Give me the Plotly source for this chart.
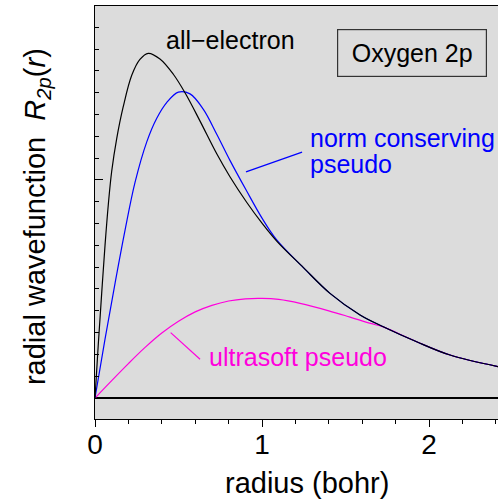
import plotly.graph_objects as go

# ---- data ----
r_all = [0.000, 0.020, 0.040, 0.060, 0.080, 0.100, 0.130, 0.169, 0.220, 0.269, 0.319, 0.389, 0.469,
         0.539, 0.629, 0.729, 0.808, 0.908, 1.000, 1.088, 1.248, 1.407, 1.587, 1.726, 1.926, 2.126, 2.413]
R_all = [0.000, 0.250, 0.480, 0.700, 0.890, 1.040, 1.190, 1.336, 1.480, 1.553, 1.581, 1.555, 1.485,
         1.400, 1.270, 1.120, 1.015, 0.898, 0.802, 0.720, 0.598, 0.480, 0.381, 0.327, 0.258, 0.197, 0.144]

r_nc = [0.000, 0.060, 0.120, 0.180, 0.240, 0.310, 0.369, 0.429, 0.499, 0.569, 0.648, 0.729, 0.808,
        0.904, 1.000, 1.088, 1.248, 1.407, 1.587, 1.726, 1.926, 2.126, 2.413]
R_nc = [0.000, 0.270, 0.526, 0.770, 0.990, 1.175, 1.282, 1.355, 1.403, 1.395, 1.325, 1.210, 1.090,
        0.955, 0.825, 0.725, 0.598, 0.480, 0.381, 0.327, 0.258, 0.197, 0.144]

r_us = [0.000, 0.100, 0.200, 0.300, 0.400, 0.500, 0.600, 0.700, 0.800, 0.900, 1.000, 1.100, 1.228,
        1.400, 1.527, 1.650, 1.726, 1.926, 2.126, 2.413]
R_us = [0.000, 0.080, 0.158, 0.232, 0.298, 0.352, 0.395, 0.425, 0.445, 0.455, 0.457, 0.452, 0.434,
        0.400, 0.371, 0.342, 0.326, 0.258, 0.197, 0.144]

FONT = "Liberation Sans, Arial, Helvetica, sans-serif"
MAG = "#ff00dd"
BLUE = "#0000ff"

fig = go.Figure()
fig.add_trace(go.Scatter(x=r_us, y=R_us, mode="lines",
                         line=dict(color=MAG, width=1.2, shape="spline", smoothing=1.0)))
fig.add_trace(go.Scatter(x=r_nc, y=R_nc, mode="lines",
                         line=dict(color=BLUE, width=1.2, shape="spline", smoothing=1.0)))
fig.add_trace(go.Scatter(x=r_all, y=R_all, mode="lines",
                         line=dict(color="black", width=1.2, shape="spline", smoothing=1.0)))

fig.update_layout(
    width=498, height=499,
    margin=dict(l=95, r=0, t=6, b=80, pad=0),
    plot_bgcolor="#dcdcdc", paper_bgcolor="white",
    showlegend=False,
    font=dict(family=FONT, color="black"),
    xaxis=dict(range=[0, 2.413], showline=True, linecolor="black", linewidth=1, mirror=True,
               ticks="outside", ticklen=7, tickwidth=1, tickcolor="black",
               tick0=0, dtick=1, ticklabelstandoff=-7,
               tickfont=dict(size=28, family=FONT, color="black"),
               minor=dict(ticks="outside", ticklen=4, tickwidth=1, tickcolor="black",
                          tick0=0, dtick=0.2, showgrid=False),
               showgrid=False, zeroline=False),
    yaxis=dict(range=[-0.0963, 1.798], showline=True, linecolor="black", linewidth=1,
               ticks="inside", ticklen=8, tickwidth=1, tickcolor="black",
               tick0=0, dtick=1, showticklabels=False,
               minor=dict(ticks="inside", ticklen=4, tickwidth=1, tickcolor="black",
                          tick0=0, dtick=0.1, showgrid=False),
               showgrid=False, zeroline=True, zerolinecolor="black", zerolinewidth=1.5),
)

ann = []
ann.append(dict(text="all\u2212electron", x=0.814, y=1.642, xref="x", yref="y",
                showarrow=False, font=dict(size=25, color="black", family=FONT)))
ann.append(dict(text="Oxygen 2p", x=1.898, y=1.583, xref="x", yref="y", showarrow=False,
                width=146, height=44, borderpad=1, borderwidth=1.2, bordercolor="#333",
                font=dict(size=25, color="black", family=FONT)))
ann.append(dict(text="norm conserving", x=1.275, y=1.193, xref="x", yref="y",
                xanchor="left", showarrow=False, font=dict(size=25, color=BLUE, family=FONT)))
ann.append(dict(text="pseudo", x=1.275, y=1.073, xref="x", yref="y",
                xanchor="left", showarrow=False, font=dict(size=25, color=BLUE, family=FONT)))
ann.append(dict(text="ultrasoft pseudo", x=0.671, y=0.188, xref="x", yref="y",
                xanchor="left", showarrow=False, font=dict(size=25, color=MAG, family=FONT)))
ann.append(dict(text="radial wavefunction  <i>R</i><sub><i>2p</i></sub>(<i>r</i>)",
                x=-0.1439, y=0.489, xref="paper", yref="paper", textangle=-90,
                xanchor="center", yanchor="middle", showarrow=False,
                font=dict(size=29, color="black", family=FONT)))
ann.append(dict(text="radius (bohr)", x=0.525, y=-0.155, xref="paper", yref="paper",
                xanchor="center", yanchor="middle", showarrow=False,
                font=dict(size=29, color="black", family=FONT)))
fig.update_layout(annotations=ann)

fig.add_shape(type="line", x0=0.904, y0=1.037, x1=1.240, y1=1.128, xref="x", yref="y",
              line=dict(color=BLUE, width=1.2))
fig.add_shape(type="line", x0=0.453, y0=0.300, x1=0.629, y1=0.178, xref="x", yref="y",
              line=dict(color=MAG, width=1.2))

fig.write_html("out.html")
